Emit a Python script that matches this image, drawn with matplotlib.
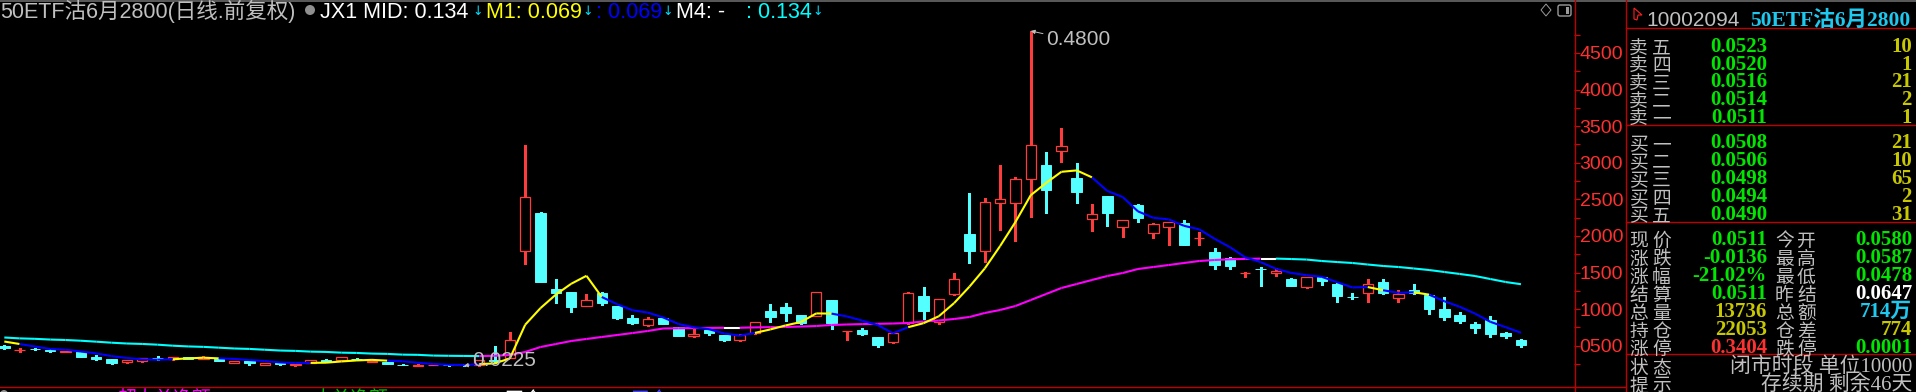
import numpy as np
import pandas as pd
import matplotlib
matplotlib.use("Agg")
import matplotlib.pyplot as plt
from matplotlib.collections import LineCollection
from matplotlib.lines import Line2D
from matplotlib.patches import Polygon, Circle, FancyBboxPatch
from matplotlib.ticker import FixedLocator, FixedFormatter

# ---------------- data ----------------
opens = [0.0496, 0.0438, 0.0458, 0.0441, 0.0420, 0.0414, 0.0346, 0.0318, 0.0277, 0.0291,
         0.0335, 0.0318, 0.0346, 0.0318, 0.0318, 0.0264, 0.0291, 0.0236, 0.0264, 0.0230,
         0.0264, 0.0305, 0.0305, 0.0325, 0.0280, 0.0277, 0.0240, 0.0229, 0.0232, 0.0236,
         0.0240, 0.0230, 0.0310, 0.0332, 0.1794, 0.2313, 0.1275, 0.1234, 0.1042, 0.1220,
         0.1042, 0.0878, 0.0783, 0.0878, 0.0755, 0.0630, 0.0710, 0.0646, 0.0578, 0.0673,
         0.0974, 0.1029, 0.0919, 0.0906, 0.1124, 0.0697, 0.0710, 0.0619, 0.0550, 0.0810,
         0.1179, 0.0820, 0.1206, 0.2026, 0.1794, 0.2449, 0.2449, 0.2777, 0.2970, 0.3160,
         0.2790, 0.2230, 0.2545, 0.2121, 0.2422, 0.2040, 0.2121, 0.2176, 0.1968, 0.1780,
         0.1700, 0.1495, 0.1548, 0.1493, 0.1410, 0.1300, 0.1437, 0.1343, 0.1165, 0.1220,
         0.1370, 0.1150, 0.1260, 0.1193, 0.1000, 0.0919, 0.0797, 0.0851, 0.0673, 0.0580]
highs = [0.0505, 0.0469, 0.0470, 0.0455, 0.0432, 0.0414, 0.0373, 0.0320, 0.0310, 0.0335,
         0.0360, 0.0350, 0.0350, 0.0360, 0.0320, 0.0295, 0.0295, 0.0266, 0.0268, 0.0255,
         0.0310, 0.0320, 0.0350, 0.0335, 0.0295, 0.0280, 0.0245, 0.0245, 0.0240, 0.0240,
         0.0245, 0.0310, 0.0490, 0.0687, 0.3242, 0.2320, 0.1410, 0.1240, 0.1206, 0.1230,
         0.1045, 0.0920, 0.0890, 0.0890, 0.0760, 0.0730, 0.0710, 0.0650, 0.0660, 0.0830,
         0.1070, 0.1080, 0.0920, 0.1240, 0.1130, 0.0705, 0.0740, 0.0620, 0.0680, 0.1230,
         0.1300, 0.1140, 0.1490, 0.2586, 0.2518, 0.2970, 0.2804, 0.4800, 0.3146, 0.3474,
         0.2996, 0.2436, 0.2550, 0.2220, 0.2430, 0.2170, 0.2190, 0.2220, 0.2053, 0.1830,
         0.1710, 0.1505, 0.1580, 0.1560, 0.1430, 0.1440, 0.1440, 0.1350, 0.1220, 0.1410,
         0.1410, 0.1260, 0.1340, 0.1200, 0.1160, 0.0960, 0.0824, 0.0905, 0.0690, 0.0587]
lows = [0.0460, 0.0414, 0.0440, 0.0414, 0.0418, 0.0346, 0.0305, 0.0250, 0.0270, 0.0280,
        0.0305, 0.0310, 0.0318, 0.0315, 0.0285, 0.0260, 0.0236, 0.0232, 0.0240, 0.0227,
        0.0260, 0.0272, 0.0300, 0.0310, 0.0275, 0.0245, 0.0232, 0.0228, 0.0230, 0.0227,
        0.0225, 0.0228, 0.0270, 0.0330, 0.1616, 0.1365, 0.1083, 0.0960, 0.1040, 0.1056,
        0.0865, 0.0797, 0.0770, 0.0790, 0.0626, 0.0620, 0.0640, 0.0565, 0.0570, 0.0660,
        0.0820, 0.0837, 0.0790, 0.0900, 0.0730, 0.0578, 0.0650, 0.0480, 0.0540, 0.0800,
        0.0865, 0.0800, 0.1190, 0.1630, 0.1643, 0.2080, 0.1934, 0.2258, 0.2313, 0.3010,
        0.2450, 0.2067, 0.2135, 0.1985, 0.2190, 0.1970, 0.1875, 0.1870, 0.1875, 0.1548,
        0.1550, 0.1436, 0.1315, 0.1450, 0.1310, 0.1288, 0.1330, 0.1097, 0.1140, 0.1097,
        0.1210, 0.1097, 0.1210, 0.0933, 0.0850, 0.0810, 0.0673, 0.0620, 0.0600, 0.0478]
closes = [0.0470, 0.0445, 0.0452, 0.0430, 0.0430, 0.0346, 0.0318, 0.0264, 0.0305, 0.0332,
          0.0328, 0.0346, 0.0325, 0.0346, 0.0291, 0.0291, 0.0264, 0.0264, 0.0245, 0.0250,
          0.0305, 0.0277, 0.0346, 0.0315, 0.0290, 0.0250, 0.0236, 0.0240, 0.0238, 0.0230,
          0.0232, 0.0300, 0.0290, 0.0578, 0.2531, 0.1370, 0.1220, 0.1029, 0.1124, 0.1083,
          0.0878, 0.0810, 0.0865, 0.0797, 0.0633, 0.0660, 0.0670, 0.0578, 0.0646, 0.0824,
          0.0892, 0.0946, 0.0810, 0.1234, 0.0810, 0.0700, 0.0660, 0.0510, 0.0673, 0.1220,
          0.0974, 0.1135, 0.1410, 0.1794, 0.2463, 0.2504, 0.2777, 0.3242, 0.2627, 0.3228,
          0.2600, 0.2300, 0.2313, 0.2217, 0.2245, 0.2163, 0.2190, 0.1875, 0.1975, 0.1600,
          0.1590, 0.1500, 0.1545, 0.1520, 0.1316, 0.1437, 0.1384, 0.1179, 0.1162, 0.1343,
          0.1220, 0.1206, 0.1220, 0.1000, 0.0892, 0.0838, 0.0742, 0.0660, 0.0632, 0.0511]
prior_closes = [0.0615, 0.0622, 0.0600, 0.0478]

# long moving average (MID)
long_ma = [0.0612, 0.0600, 0.0594, 0.0584, 0.0578, 0.0568, 0.0555, 0.0541, 0.0530, 0.0524,
           0.0514, 0.0500, 0.0490, 0.0484, 0.0473, 0.0462, 0.0456, 0.0445, 0.0434, 0.0429,
           0.0419, 0.0415, 0.0405, 0.0401, 0.0392, 0.0388, 0.0378, 0.0375, 0.0365, 0.0362,
           0.0360, 0.0358, 0.0362, 0.0373, 0.0414, 0.0482, 0.0523, 0.0564, 0.0592, 0.0619,
           0.0646, 0.0673, 0.0701, 0.0735, 0.0738, 0.0741, 0.0743, 0.0745, 0.0745, 0.0750,
           0.0753, 0.0756, 0.0762, 0.0769, 0.0783, 0.0790, 0.0795, 0.0799, 0.0803, 0.0810,
           0.0831, 0.0844, 0.0865, 0.0892, 0.0947, 0.0988, 0.1042, 0.1124, 0.1206, 0.1288,
           0.1343, 0.1398, 0.1452, 0.1493, 0.1548, 0.1575, 0.1602, 0.1630, 0.1657, 0.1671,
           0.1680, 0.1686, 0.1690, 0.1690, 0.1684, 0.1677, 0.1657, 0.1643, 0.1630, 0.1609,
           0.1589, 0.1575, 0.1555, 0.1534, 0.1507, 0.1480, 0.1452, 0.1411, 0.1370, 0.1340]

ytick_values = [0.05, 0.10, 0.15, 0.20, 0.25, 0.30, 0.35, 0.40, 0.45]
ytick_labels = ["0500", "1000", "1500", "2000", "2500", "3000", "3500", "4000", "4500"]

high_label = "0.4800"
low_label = "0.0225"

title_main = "50ETF沽6月2800(日线.前复权)"
legend_items = [("JX1 MID: 0.134", "#ffffff"), ("M1: 0.069", "#ffff00"),
                (": 0.069", "#0000ff"), ("M4: -", "#ffffff"), (": 0.134", "#00ffff")]

code_text = "10002094"
name_text = "50ETF沽6月2800"
sell_labels = ["卖五", "卖四", "卖三", "卖二", "卖一"]
sell_prices = ["0.0523", "0.0520", "0.0516", "0.0514", "0.0511"]
sell_vols = ["10", "1", "21", "2", "1"]
buy_labels = ["买一", "买二", "买三", "买四", "买五"]
buy_prices = ["0.0508", "0.0506", "0.0498", "0.0494", "0.0490"]
buy_vols = ["21", "10", "65", "2", "31"]
stat_labels_l = ["现价", "涨跌", "涨幅", "结算", "总量", "持仓", "涨停"]
stat_vals_l = ["0.0511", "-0.0136", "-21.02%", "0.0511", "13736", "22053", "0.3404"]
stat_labels_r = ["今开", "最高", "最低", "昨结", "总额", "仓差", "跌停"]
stat_vals_r = ["0.0580", "0.0587", "0.0478", "0.0647", "714万", "774", "0.0001"]
status_rows = [("状态", "闭市时段 单位10000"), ("提示", "存续期 剩余46天")]

# ---------------- style ----------------
W, H, DPI = 1916, 392, 100
UP = "#ff3c3c"
DN = "#54ffff"
LINE_RED = "#c00000"
GRAY = "#c0c0c0"
GREEN = "#00e600"
YEL = "#c8c800"
CYAN_T = "#1ec8ee"
SANS = ["Liberation Sans", "Noto Sans CJK SC", "DejaVu Sans"]
SERIF = ["Liberation Serif", "Noto Sans CJK SC", "DejaVu Sans"]
CJK = ["Noto Sans CJK SC", "DejaVu Sans"]

fig = plt.figure(figsize=(W / DPI, H / DPI), dpi=DPI, facecolor="black")
PX = fig.dpi_scale_trans


def P(x, y):
    return (x / DPI, (H - y) / DPI)


def ptext(x, y, s, color, size, ha="left", va="baseline", family=SANS, weight="normal"):
    fig.text(x / DPI, (H - y) / DPI, s, transform=PX, color=color, fontsize=size,
             ha=ha, va=va, family=family, weight=weight)


def pline(x0, y0, x1, y1, color, lw=0.72):
    fig.add_artist(Line2D([x0 / DPI, x1 / DPI], [(H - y0) / DPI, (H - y1) / DPI],
                          transform=PX, color=color, lw=lw))


# ---------------- main axes ----------------
PLOT_R = 1574
PLOT_B = 386
SP, X0 = 15.32, 4.3
ax = fig.add_axes([0, (H - PLOT_B) / H, PLOT_R / W, PLOT_B / H])
ax.set_facecolor("black")
ax.set_xlim(-X0 / SP, (PLOT_R - X0) / SP)
ax.set_ylim(0.05 - (PLOT_B - 345.7) / 732.0, 0.05 + 345.7 / 732.0)
for s in ax.spines.values():
    s.set_visible(False)
ax.set_xticks([])

o = np.array(opens); h = np.array(highs); l = np.array(lows); c = np.array(closes)
n = len(c)
idx = np.arange(n)
up = c >= o
dn = ~up
top = np.maximum(o, c)
bot = np.minimum(o, c)
BW = 0.68

ax.vlines(idx[dn], l[dn], h[dn], color=DN, lw=0.8, antialiased=False, zorder=2)
ax.bar(idx[dn], (o - c)[dn], bottom=c[dn], width=BW, facecolor=DN, edgecolor=DN,
       linewidth=0.7, zorder=3)
ax.vlines(idx[up], top[up], h[up], color=UP, lw=0.8, antialiased=False, zorder=2)
ax.vlines(idx[up], l[up], bot[up], color=UP, lw=0.8, antialiased=False, zorder=2)
ax.bar(idx[up], (c - o)[up], bottom=o[up], width=BW, facecolor="black", edgecolor=UP,
       linewidth=0.9, zorder=3)

# long MA: magenta rising, cyan falling, white flat
lm = np.array(long_ma)
segs, cols = [], []
for i in range(n - 1):
    segs.append([(i, lm[i]), (i + 1, lm[i + 1])])
    d = lm[i + 1] - lm[i]
    if abs(d) < 1e-9:
        cols.append("#ffffff")
    elif d > 0:
        cols.append("#ff00ff")
    else:
        cols.append("#00ffff")
ax.add_collection(LineCollection(segs, colors=cols, linewidths=1.5, zorder=4, capstyle="butt"))

# short MA (5): yellow rising, blue falling
allc = pd.Series(prior_closes + closes)
ma5 = allc.rolling(5).mean().to_numpy()[len(prior_closes):]
segs, cols = [], []
for i in range(n - 1):
    segs.append([(i, ma5[i]), (i + 1, ma5[i + 1])])
    rising = True if i == 0 else ma5[i] >= ma5[i - 1]
    cols.append("#ffff00" if rising else "#0000ff")
ax.add_collection(LineCollection(segs, colors=cols, linewidths=1.5, zorder=5, capstyle="butt"))

# high / low markers
ih = int(np.argmax(h)); il = int(np.argmin(l))
ax.annotate(high_label, xy=(ih, h[ih]), xytext=(15, -9), textcoords="offset pixels",
            color=GRAY, fontsize=15, family=SANS, ha="left", va="center",
            arrowprops=dict(arrowstyle="-|>", color=GRAY, lw=0.7, mutation_scale=6,
                            shrinkA=0, shrinkB=0, relpos=(0, 0.8)), zorder=6)
ax.annotate(low_label, xy=(il, l[il]), xytext=(8, 5), textcoords="offset pixels",
            color=GRAY, fontsize=15, family=SANS, ha="left", va="center",
            arrowprops=dict(arrowstyle="-|>", color=GRAY, lw=0.7, mutation_scale=6,
                            shrinkA=0, shrinkB=0, relpos=(0, 0.3)), zorder=6)

# y axis on the right
ax.yaxis.tick_right()
ax.yaxis.set_major_locator(FixedLocator(ytick_values))
ax.yaxis.set_major_formatter(FixedFormatter(ytick_labels))
ax.yaxis.set_minor_locator(FixedLocator(list(np.array(ytick_values) - 0.025) + [0.475]))
ax.tick_params(axis="y", which="both", colors="#e00000", length=4, width=0.8,
               direction="out", pad=0, labelsize=14, labelcolor="#ff3030")
for lb in ax.get_yticklabels():
    lb.set_family(SANS)

# ---------------- frame lines ----------------
pline(0, 0.7, W, 0.7, "#6a6a6a", lw=1.2)
pline(PLOT_R + 0.5, 0, PLOT_R + 0.5, H, LINE_RED, lw=1.0)
pline(1625.5, 0, 1625.5, H, LINE_RED, lw=1.0)
pline(0, 386.5, 1625.5, 386.5, LINE_RED, lw=1.0)
for yy in (27.5, 124.7, 221.7, 354.3):
    pline(1625.5, yy, W, yy, LINE_RED, lw=1.0)

# icons
fig.add_artist(Polygon([P(1546, 4), P(1551, 10), P(1546, 16), P(1541, 10)], closed=True,
                       transform=PX, fill=False, edgecolor="#9a9a9a", lw=0.7))
fig.add_artist(FancyBboxPatch(P(1558, 16), 13 / DPI, 11 / DPI, boxstyle="round,pad=0,rounding_size=0.02",
                              transform=PX, fill=False, edgecolor="#9a9a9a", lw=1.0))
fig.add_artist(Polygon([P(1566, 7), P(1569, 7), P(1569, 14), P(1566, 14)], closed=True,
                       transform=PX, facecolor="#9a9a9a", edgecolor="none"))
fig.add_artist(Polygon([P(1634, 8), P(1642, 15), P(1638, 15), P(1637, 20), P(1634, 19)], closed=True,
                       transform=PX, fill=False, edgecolor="#ff2020", lw=0.8))
fig.add_artist(Circle(P(310, 10), 5 / DPI, transform=PX, facecolor="#909090", edgecolor="none"))

# ---------------- title bar ----------------
ptext(0, 18, title_main, GRAY, 15.5)
legend_x = [320, 486, 596, 676, 746]
arrow_x = [472, 582, 662, None, 812]
for (s, col), xx, ax_ in zip(legend_items, legend_x, arrow_x):
    ptext(xx, 18, s, col, 15.5)
    if ax_ is not None:
        ptext(ax_, 15, "↓", "#00e0ff", 9, family=["DejaVu Sans"])

# ---------------- right panel ----------------
ptext(1646, 26.5, code_text, GRAY, 15)
ptext(1910, 26, name_text, CYAN_T, 15.5, ha="right", family=SERIF, weight="bold")


def label2(x1, x2, y, s):
    ptext(x1, y + 1.5, s[0], GRAY, 13.5, family=CJK)
    ptext(x2, y + 1.5, s[1], GRAY, 13.5, family=CJK)


for k in range(5):
    y = 52 + 17.7 * k
    label2(1629, 1652, y, sell_labels[k])
    ptext(1767, y, sell_prices[k], GREEN, 15, ha="right", family=SERIF, weight="bold")
    ptext(1912, y, sell_vols[k], YEL, 15, ha="right", family=SERIF, weight="bold")
for k in range(5):
    y = 148.5 + 17.9 * k
    label2(1629, 1652, y, buy_labels[k])
    ptext(1767, y, buy_prices[k], GREEN, 15, ha="right", family=SERIF, weight="bold")
    ptext(1912, y, buy_vols[k], YEL, 15, ha="right", family=SERIF, weight="bold")

cols_l = [GREEN, GREEN, GREEN, GREEN, YEL, YEL, "#ff3232"]
cols_r = [GREEN, GREEN, GREEN, "#ffffff", CYAN_T, YEL, GREEN]
for k in range(7):
    y = 245 + 18.05 * k
    label2(1629, 1652, y, stat_labels_l[k])
    ptext(1767, y, stat_vals_l[k], cols_l[k], 15, ha="right", family=SERIF, weight="bold")
    label2(1775, 1797, y, stat_labels_r[k])
    ptext(1912, y, stat_vals_r[k], cols_r[k], 15, ha="right", family=SERIF, weight="bold")

for k, (lab, val) in enumerate(status_rows):
    y = 372.5 + 17.5 * k
    label2(1629, 1652, y, lab)
    ptext(1912, y, val, GRAY, 15, ha="right", family=["Liberation Serif", "Noto Sans CJK SC"])

# bottom strip (mostly cut off)
fig.add_artist(Circle(P(4, 394), 4 / DPI, transform=PX, facecolor="#909090", edgecolor="none"))
bottom_items = [(14, "DDX(X)", GRAY), (118, "超大单净额:", "#ff00ff"), (241, "15.000", "#ff00ff"),
                (313, "大单净额:", "#00c000"), (433, "25.000", "#00c000"),
                (505, "开仓:", "#ffffff"), (560, "50.000", "#ffffff"),
                (631, "平仓:", "#4040ff"), (683, "0.000", "#4040ff")]
for xx, s, col in bottom_items:
    ptext(xx, 405, s, col, 13.5)

fig.savefig("out.png", dpi=DPI, facecolor="black")
